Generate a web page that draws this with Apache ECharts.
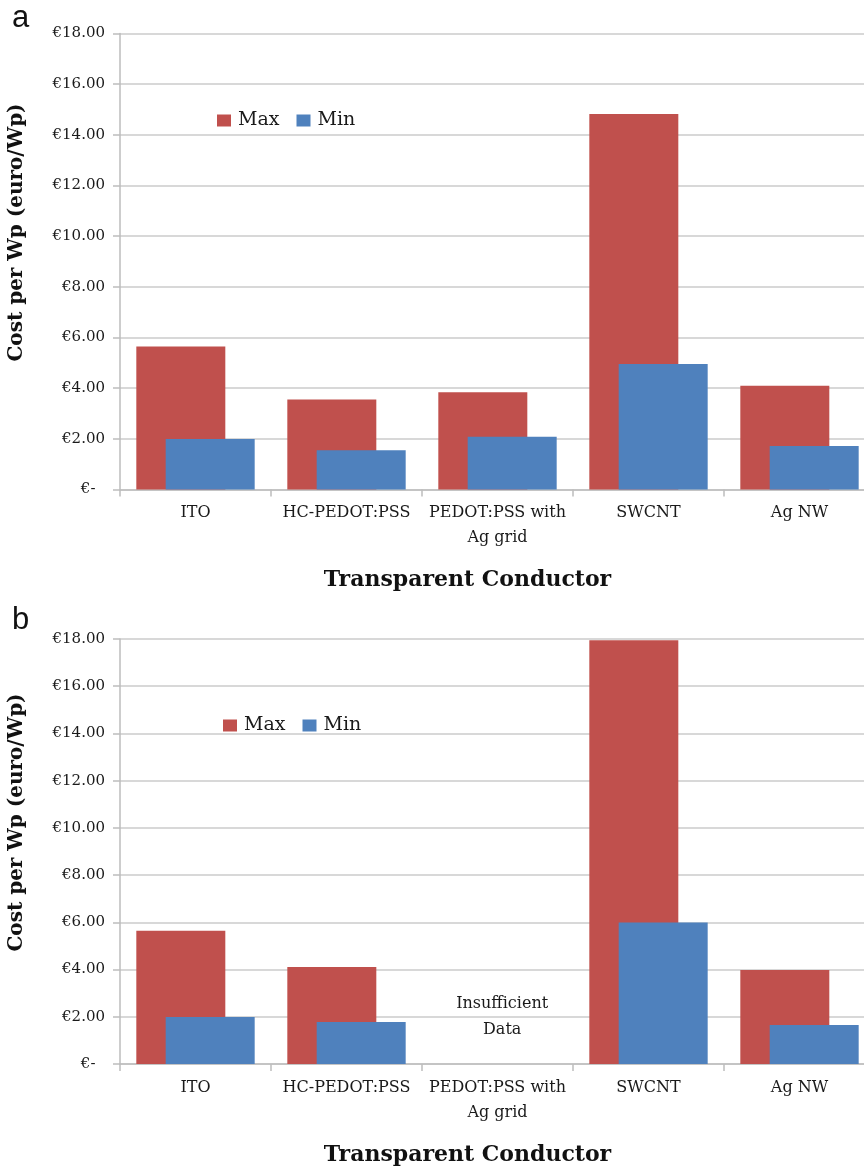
<!DOCTYPE html>
<html>
<head>
<meta charset="utf-8">
<script src="https://cdn.jsdelivr.net/npm/echarts@6/dist/echarts.min.js"></script>
<style>
html,body{margin:0;padding:0;background:#fff;}
#chart{width:864px;height:1170px;}
</style>
</head>
<body>
<div id="chart"></div>
<script>
const categories = ['ITO', 'HC-PEDOT:PSS', 'PEDOT:PSS with\nAg grid', 'SWCNT', 'Ag NW'];
const seriesNames = ['Max', 'Min'];
const maxA = [5.64, 3.55, 3.84, 14.82, 4.10];
const minA = [1.99, 1.55, 2.08, 4.95, 1.72];
const maxB = [5.64, 4.11, null, 17.95, 3.98];
const minB = [1.99, 1.78, null, 5.99, 1.65];
const yMin = 0, yMax = 18, yStep = 2;
const yTitle = 'Cost per Wp (euro/Wp)';
const xTitle = 'Transparent Conductor';
const noteText = 'Insufficient\nData';
const noteAt = [2, 2.0];
const panelLabels = ['a', 'b'];

const RED = '#C0504D', BLUE = '#4F81BD';
const SERIF = 'DejaVu Serif';
const chart = echarts.init(document.getElementById('chart'), null, {renderer: 'canvas'});

function fmtY(v) { return v === 0 ? '€-  ' : '€' + v.toFixed(2); }

function xAx(i) {
  return {
    type: 'category', gridIndex: i, data: categories,
    axisLine: {show: true, lineStyle: {color: '#bdbdbd', width: 1.5}},
    axisTick: {show: true, length: 7, lineStyle: {color: '#bdbdbd', width: 1.5}},
    axisLabel: {color: '#1a1a1a', fontFamily: SERIF, fontSize: 16, lineHeight: 25, margin: 11, interval: 0},
    name: xTitle, nameLocation: 'middle', nameGap: 80,
    nameTextStyle: {color: '#111', fontFamily: SERIF, fontWeight: 'bold', fontSize: 22, padding: [0, 60, 0, 0]}
  };
}
function yAx(i) {
  return {
    type: 'value', gridIndex: i, min: yMin, max: yMax, interval: yStep,
    axisLine: {show: true, lineStyle: {color: '#bdbdbd', width: 1.5}},
    axisTick: {show: true, length: 7, lineStyle: {color: '#bdbdbd', width: 1.5}},
    splitLine: {show: true, lineStyle: {color: '#cbcbcb', width: 1.5}},
    axisLabel: {color: '#1a1a1a', fontFamily: SERIF, fontSize: 15, margin: 15, formatter: fmtY},
    name: yTitle, nameLocation: 'middle', nameRotate: 90, nameGap: 93,
    nameTextStyle: {color: '#111', fontFamily: SERIF, fontWeight: 'bold', fontSize: 20, padding: [0, 0, 0, 58]}
  };
}
function bar(name, data, color, i) {
  return {
    name: name, type: 'bar', xAxisIndex: i, yAxisIndex: i, data: data,
    barWidth: 89, barGap: '-67%', itemStyle: {color: color}, animation: false
  };
}

const legendBase = {
  data: seriesNames, icon: 'rect', itemWidth: 14, itemHeight: 12, itemGap: 17,
  orient: 'horizontal',
  textStyle: {color: '#1a1a1a', fontFamily: SERIF, fontSize: 19, padding: [0, 0, 0, 2]}
};

const sMinB = bar('Min', minB, BLUE, 1);
sMinB.markPoint = {
  symbol: 'rect', symbolSize: 1, itemStyle: {color: 'rgba(0,0,0,0)'},
  data: [{coord: noteAt, value: noteText}],
  label: {show: true, position: 'inside', offset: [-10, 0], formatter: noteText, color: '#1a1a1a',
          fontFamily: SERIF, fontSize: 16, lineHeight: 26}
};

chart.setOption({
  animation: false,
  backgroundColor: '#fff',
  grid: [
    {left: 120, width: 755, top: 33.5, height: 456, outerBoundsMode: 'none', containLabel: false},
    {left: 120, width: 755, top: 639, height: 425, outerBoundsMode: 'none', containLabel: false}
  ],
  legend: [
    Object.assign({left: 212, top: 106}, legendBase),
    Object.assign({left: 218, top: 711}, legendBase)
  ],
  xAxis: [xAx(0), xAx(1)],
  yAxis: [yAx(0), yAx(1)],
  series: [bar('Max', maxA, RED, 0), bar('Min', minA, BLUE, 0), bar('Max', maxB, RED, 1), sMinB],
  graphic: [
    {type: 'text', left: 12, top: 3, style: {text: panelLabels[0], font: '31px "Liberation Sans", Arial, sans-serif', fill: '#111'}},
    {type: 'text', left: 12, top: 605, style: {text: panelLabels[1], font: '31px "Liberation Sans", Arial, sans-serif', fill: '#111'}}
  ]
});
</script>
</body>
</html>
